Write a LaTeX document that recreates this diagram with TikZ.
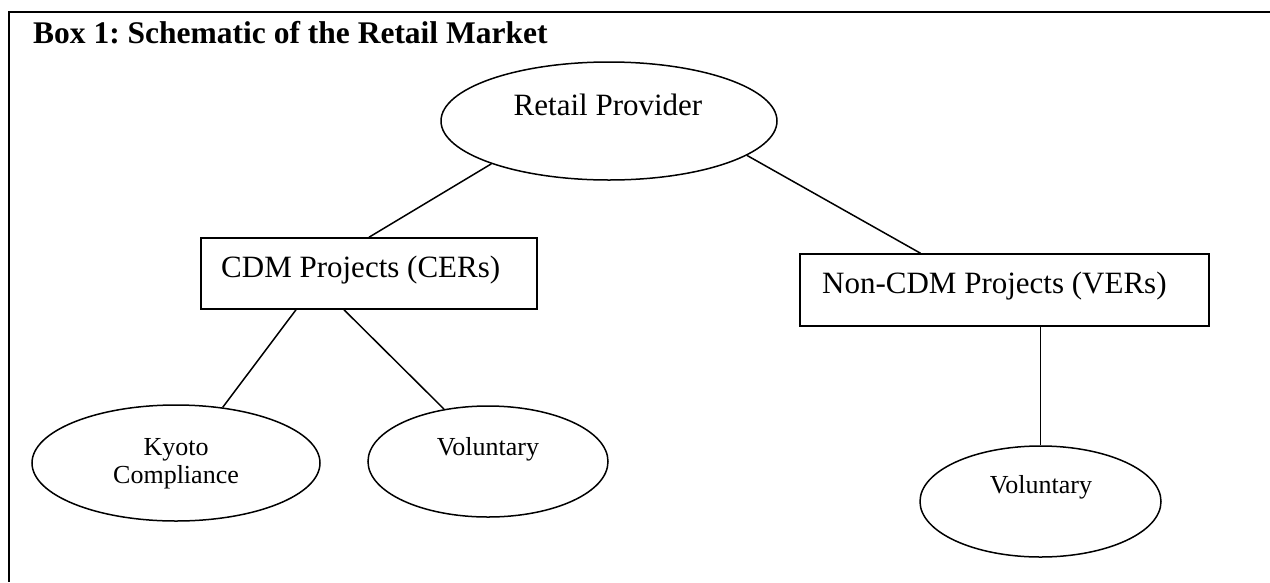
\documentclass[tikz,border=0pt]{standalone}
\usepackage{fontspec}
\setmainfont{Liberation Serif}
\usetikzlibrary{shapes.geometric}
\frenchspacing
\begin{document}
\begin{tikzpicture}[x=1pt,y=-1pt,
  oval/.style={draw,ellipse,line width=1.5pt,inner sep=0pt},
  projbox/.style={draw,rectangle,line width=1.5pt,inner sep=0pt},
  bigtxt/.style={font=\fontsize{31}{37}\selectfont,inner sep=0pt},
  smalltxt/.style={font=\fontsize{26}{28}\selectfont,inner sep=0pt},
  link/.style={line width=1.5pt}]
\useasboundingbox (0,0) rectangle (1270,582);
% frame
\draw[line width=2pt] (1270,12) -- (9,12) -- (9,582);
\node[anchor=base west,inner sep=0pt,font=\fontsize{31.5}{37}\selectfont\bfseries] (title) at (33,43) {Box 1: Schematic of the Retail Market};
% shapes
\node[oval,minimum width=336pt,minimum height=118pt] (rp) at (609,121) {};
\node[projbox,minimum width=336pt,minimum height=71pt] (cdm) at (369,273.5) {};
\node[projbox,minimum width=409pt,minimum height=72pt] (ncdm) at (1004.5,290) {};
\node[oval,minimum width=288pt,minimum height=116pt] (kyoto) at (176,463) {};
\node[oval,minimum width=240pt,minimum height=111pt] (vol1) at (488,461.5) {};
\node[oval,minimum width=241pt,minimum height=111pt] (vol2) at (1040.5,501.5) {};
% texts
\node[bigtxt,anchor=base] (rpt) at (608,115) {Retail Provider};
\node[bigtxt,anchor=base west] (cdmt) at (221,277) {CDM Projects (CERs)};
\node[bigtxt,anchor=base west] (ncdmt) at (822,293) {Non-CDM Projects (VERs)};
\node[smalltxt,anchor=base] (kyt1) at (176,455) {Kyoto};
\node[smalltxt,anchor=base] (kyt2) at (176,483) {Compliance};
\node[smalltxt,anchor=base] (v1t) at (488,455) {Voluntary};
\node[smalltxt,anchor=base] (v2t) at (1041,493) {Voluntary};
% connectors
\draw[link] (rp.200) -- (cdm.north);
\draw[link] (rp.346) -- ([xshift=-84pt]ncdm.north);
\draw[link] ([xshift=-73pt]cdm.south) -- (kyoto.50);
\draw[link] ([xshift=-25pt]cdm.south) -- (vol1.130);
\draw[link] (vol2.north |- ncdm.south) -- (vol2.north);
\end{tikzpicture}
\end{document}
